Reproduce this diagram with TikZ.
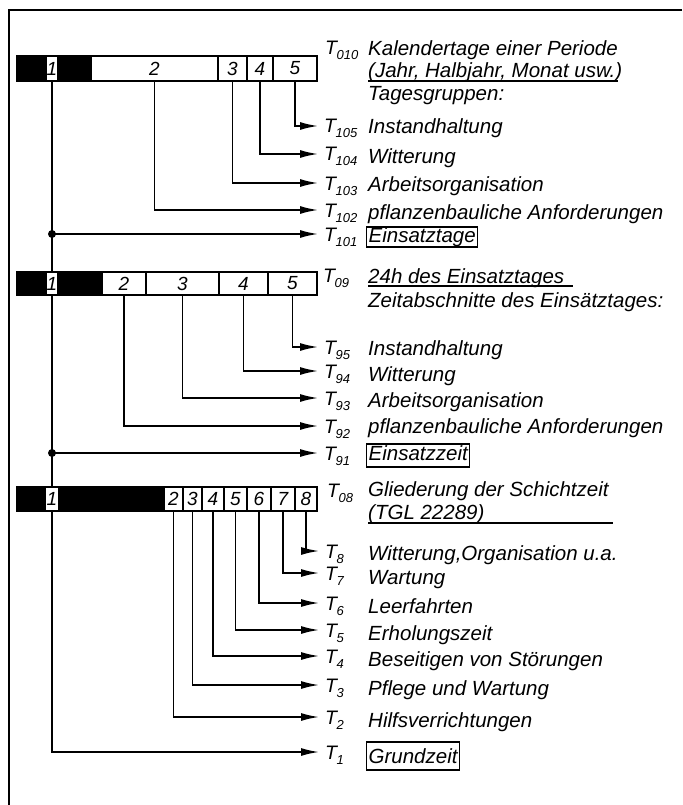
\documentclass[tikz,border=0pt]{standalone}
\usepackage{fontspec}
\setmainfont{Liberation Sans}
\usetikzlibrary{arrows.meta}
\newcommand\Tsub[1]{T\kern-0.5pt\raisebox{-5pt}{\fontsize{13}{13}\selectfont #1}}
\begin{document}
\begin{tikzpicture}[x=1pt,y=-1pt,
  bar/.style={draw, line width=2pt},
  cell/.style={draw, fill=white, line width=1.3pt, inner sep=0pt, font=\itshape\fontsize{19}{19}\selectfont},
  txt/.style={anchor=base west, inner sep=0pt, font=\itshape\fontsize{20.5}{20.5}\selectfont},
  tl/.style={anchor=west, inner sep=0pt, text height=14pt, text depth=0pt, font=\itshape\fontsize{19.5}{19.5}\selectfont},
  boxed/.style={draw, line width=1.3pt, inner xsep=2pt, inner ysep=0pt},
  conn/.style={line width=1.6pt, shorten >=6pt, -{Latex[length=18pt,width=8pt]}},
  plain/.style={line width=1.6pt},
  uline/.style={line width=1.5pt},
  dot/.style={circle, fill, inner sep=0pt, minimum size=8pt}
]
\useasboundingbox (0,0) rectangle (682,805);
% frame
\draw[line width=2.2pt] (682,10) -- (9,10) -- (9,805);

% ---------- bar 1 ----------
\fill (17,56) rectangle (91,81);
\draw[bar] (17,56) rectangle (317,81);
\node[cell, minimum width=12pt, minimum height=25pt] (a1) at (52,68.5) {1};
\node[cell, minimum width=127pt, minimum height=25pt] (a2) at (154.5,68.5) {2};
\node[cell, minimum width=29pt, minimum height=25pt] (a3) at (232.5,68.5) {3};
\node[cell, minimum width=26pt, minimum height=25pt] (a4) at (260,68.5) {4};
\node[cell, minimum width=44pt, minimum height=25pt] (a5) at (295,68.5) {5};

\node[tl] (t010) at (325,48) {\Tsub{010}};
\node[txt] (h1a) at (368,56) {Kalendertage einer Periode};
\node[txt] (h1b) at (368,78) {(Jahr, Halbjahr, Monat usw.)};
\node[txt] (h1c) at (368,101) {Tagesgruppen:};
\draw[uline] (h1b.base west) ++(0,3) coordinate (u1s) -- (618,81) coordinate (u1e);

\node[tl] (t105) at (324,126) {\Tsub{105}};
\node[tl] (t104) at (324,154) {\Tsub{104}};
\node[tl] (t103) at (324,183) {\Tsub{103}};
\node[tl] (t102) at (324,210) {\Tsub{102}};
\node[tl] (t101) at (324,234) {\Tsub{101}};
\node[txt] (d105) at (368,134) {Instandhaltung};
\node[txt] (d104) at (368,164) {Witterung};
\node[txt] (d103) at (368,192) {Arbeitsorganisation};
\node[txt] (d102) at (368,219) {pflanzenbauliche Anforderungen};
\node[txt, boxed, text height=15pt, text depth=5pt] (d101) at (366,242) {Einsatztage};

\draw[conn] (a5.south) |- (t105.west);
\draw[conn] (a4.south) |- (t104.west);
\draw[conn] (a3.south) |- (t103.west);
\draw[conn] (a2.south) |- (t102.west);
\draw[conn] (a1.south) |- node[dot, pos=0.5] {} (t101.west);

% ---------- bar 2 ----------
\fill (17,272) rectangle (102,295);
\draw[bar] (17,272) rectangle (317,295);
\node[cell, minimum width=12pt, minimum height=23pt] (b1) at (52,283.5) {1};
\node[cell, minimum width=44pt, minimum height=23pt] (b2) at (124,283.5) {2};
\node[cell, minimum width=73pt, minimum height=23pt] (b3) at (182.5,283.5) {3};
\node[cell, minimum width=49pt, minimum height=23pt] (b4) at (243.5,283.5) {4};
\node[cell, minimum width=49pt, minimum height=23pt] (b5) at (292.5,283.5) {5};
\draw[plain] (a1.south) -- (b1.north);

\node[tl] (t09) at (323,275) {\Tsub{09}};
\node[txt] (h2a) at (368,283) {24h des Einsatztages};
\node[txt] (h2b) at (368,307) {Zeitabschnitte des Einsätztages:};
\draw[uline] (h2a.base west) ++(0,3) -- (573,286);

\node[tl] (t95) at (324,347) {\Tsub{95}};
\node[tl] (t94) at (324,371) {\Tsub{94}};
\node[tl] (t93) at (324,398) {\Tsub{93}};
\node[tl] (t92) at (324,426) {\Tsub{92}};
\node[tl] (t91) at (324,453) {\Tsub{91}};
\node[txt] (d95) at (368,355) {Instandhaltung};
\node[txt] (d94) at (368,381) {Witterung};
\node[txt] (d93) at (368,407) {Arbeitsorganisation};
\node[txt] (d92) at (368,433) {pflanzenbauliche Anforderungen};
\node[txt, boxed, text height=16pt, text depth=7pt] (d91) at (366,460) {Einsatzzeit};

\draw[conn] (b5.south) |- (t95.west);
\draw[conn] (b4.south) |- (t94.west);
\draw[conn] (b3.south) |- (t93.west);
\draw[conn] (b2.south) |- (t92.west);
\draw[conn] (b1.south) |- node[dot, pos=0.5] {} (t91.west);

% ---------- bar 3 ----------
\fill (17,487) rectangle (164,511);
\draw[bar] (17,487) rectangle (317,511);
\node[cell, minimum width=13pt, minimum height=24pt] (c1) at (52,499) {1};
\node[cell, minimum width=19pt, minimum height=24pt] (c2) at (173.5,499) {2};
\node[cell, minimum width=19pt, minimum height=24pt] (c3) at (192.5,499) {3};
\node[cell, minimum width=22pt, minimum height=24pt] (c4) at (213,499) {4};
\node[cell, minimum width=23pt, minimum height=24pt] (c5) at (235.5,499) {5};
\node[cell, minimum width=24pt, minimum height=24pt] (c6) at (259,499) {6};
\node[cell, minimum width=24pt, minimum height=24pt] (c7) at (283,499) {7};
\node[cell, minimum width=22pt, minimum height=24pt] (c8) at (306,499) {8};
\draw[plain] (b1.south) -- (c1.north);

\node[tl] (t08) at (327,490) {\Tsub{08}};
\node[txt] (h3a) at (368,496) {Gliederung der Schichtzeit};
\node[txt] (h3b) at (368,519) {(TGL 22289)};
\draw[uline] (h3b.base west) ++(0,4) -- (613,523);

\node[tl] (t8) at (325,551) {\Tsub{8}};
\node[tl] (t7) at (325,573) {\Tsub{7}};
\node[tl] (t6) at (325,603) {\Tsub{6}};
\node[tl] (t5) at (325,630) {\Tsub{5}};
\node[tl] (t4) at (325,656) {\Tsub{4}};
\node[tl] (t3) at (325,685) {\Tsub{3}};
\node[tl] (t2) at (325,717) {\Tsub{2}};
\node[tl] (t1) at (325,752) {\Tsub{1}};
\node[txt] (d8) at (368,560) {Witterung,Organisation u.a.};
\node[txt] (d7) at (368,584) {Wartung};
\node[txt] (d6) at (368,613) {Leerfahrten};
\node[txt] (d5) at (368,640) {Erholungszeit};
\node[txt] (d4) at (368,666) {Beseitigen von Störungen};
\node[txt] (d3) at (368,695) {Pflege und Wartung};
\node[txt] (d2) at (368,727) {Hilfsverrichtungen};
\node[txt, boxed, text height=21pt, text depth=7pt] (d1) at (366,763) {Grundzeit};

\draw[conn] (c8.south) |- (t8.west);
\draw[conn] (c7.south) |- (t7.west);
\draw[conn] (c6.south) |- (t6.west);
\draw[conn] (c5.south) |- (t5.west);
\draw[conn] (c4.south) |- (t4.west);
\draw[conn] (c3.south) |- (t3.west);
\draw[conn] (c2.south) |- (t2.west);
\draw[conn] (c1.south) |- (t1.west);
\end{tikzpicture}
\end{document}
